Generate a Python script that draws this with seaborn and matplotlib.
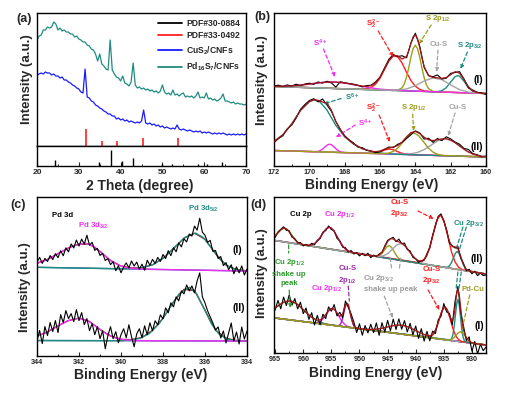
import numpy as np
import matplotlib
matplotlib.use("Agg")
import matplotlib.pyplot as plt
from matplotlib.lines import Line2D
import seaborn as sns

sns.set_style("ticks", {"xtick.direction": "in", "ytick.direction": "in"})
plt.rcParams["font.family"] = ["Liberation Sans", "DejaVu Sans"]
plt.rcParams["font.weight"] = "bold"
plt.rcParams["mathtext.fontset"] = "custom"
plt.rcParams["mathtext.rm"] = "Liberation Sans:bold"
plt.rcParams["mathtext.it"] = "Liberation Sans:bold"
plt.rcParams["mathtext.bf"] = "Liberation Sans:bold"
plt.rcParams["mathtext.default"] = "rm"

TEAL = "#1f8c80"
BLUE = "#1a1aff"
RED = "#ff1f1f"
ENV = "#a01818"
OLIVE = "#9d9d1e"
GRAY = "#a3a3a3"
MAG = "#f22cf2"
GREEN = "#2e9a2e"
PURPLE = "#9a2aa8"

# ---------------- (a) XRD ----------------
xrd_teal = [106, 110, 111, 116, 116, 119, 118, 119, 124, 122, 116, 118, 115, 116, 114, 114, 112, 112, 109, 110,
            107, 106, 104, 104, 101, 100, 97, 96, 92, 85, 92, 82, 80, 77, 76, 106, 76, 72, 69, 68,
            65, 70, 63, 62, 60, 64, 83, 61, 58, 59, 57, 58, 56, 57, 55, 56, 54, 55, 53, 55,
            61, 54, 52, 53, 51, 56, 51, 52, 50, 52, 53, 49, 50, 49, 50, 48, 50, 54, 48, 49,
            48, 53, 47, 48, 46, 47, 45, 46, 48, 52, 45, 45, 44, 43, 44, 42, 43, 42, 42, 41, 42]
xrd_blue = [71, 72, 73, 72, 74, 73, 73, 71, 72, 70, 70, 68, 69, 66, 66, 64, 63, 61, 60, 58,
            57, 54, 53, 77, 49, 48, 45, 44, 41, 40, 38, 37, 35, 34, 32, 32, 30, 30, 27, 28,
            26, 27, 25, 26, 24, 25, 24, 23, 24, 23, 25, 36, 23, 22, 23, 21, 22, 20, 21, 19,
            20, 18, 19, 18, 17, 18, 17, 21, 17, 16, 17, 16, 15, 16, 15, 14, 15, 14, 15, 13,
            14, 13, 14, 13, 12, 13, 12, 13, 12, 13, 12, 11, 12, 11, 12, 11, 12, 11, 12, 11, 12]
pdf_33_pos = [31.7, 35.5, 39.2, 45.4, 53.8]
pdf_33_h = [17, 5, 5, 8, 8]
pdf_30_pos = [24.2, 34.8, 37.6, 40.3, 42.9, 50.0, 52.4, 58.5, 60.7, 64.2]
pdf_30_h = [6, 4, 16, 5, 8, 2, 2, 2, 2, 4]
legend_labels = ["PDF#30-0884", "PDF#33-0492", "CuS$_2$/CNFs", "Pd$_{16}$S$_7$/CNFs"]

# ---------------- (b) S 2p ----------------
b1_base_x, b1_base_y = [160, 172], [72.5, 79.5]
b2_base_x, b2_base_y = [160, 172], [9, 15.5]

b1_mag_x = [172, 171.85, 171.2, 170.55, 169.9, 169.25, 168.6, 167.95, 167.3, 166.65, 166.0, 165.35, 164.7, 160]
b1_mag_y = [0.2, 0.29, 0.88, 2.1, 3.9, 5.7, 6.5, 5.7, 3.9, 2.1, 0.88, 0.29, 0.07, 0]
b1_red_x = [172, 167.15, 166.75, 166.5, 166.25, 166, 165.75, 165.5, 165.25, 165, 164.75, 164.5, 164.25, 164,
            163.75, 163.5, 163.25, 163, 160]
b1_red_y = [0, 0.1, 0.8, 2.3, 5.7, 11.8, 20.6, 29.2, 34.5, 33.8, 27.7, 18.6, 10.5, 4.9, 1.9, 0.6, 0.15, 0, 0]
b1_olive_x = [172, 165.25, 165, 164.75, 164.625, 164.5, 164.375, 164.25, 164.125, 164, 163.875, 163.75,
              163.625, 163.5, 163.375, 163.25, 163, 162.75, 160]
b1_olive_y = [0, 0, 0.4, 3, 6.9, 13.7, 23.1, 33.9, 42.6, 46, 42.6, 33.9, 23.1, 13.7, 6.9, 3, 0.4, 0, 0]
b1_gray_x = [172, 165.5, 165, 164.5, 164, 163.5, 163, 162.5, 162, 161.5, 161, 160.5, 160]
b1_gray_y = [0, 0.1, 0.5, 1.9, 5.4, 10.5, 13.9, 12.4, 7.4, 3, 0.8, 0.2, 0.05]
b1_teal_x = [172, 163, 162.75, 162.5, 162.25, 162, 161.75, 161.6, 161.5, 161.25, 161, 160.75, 160.5, 160.25, 160]
b1_teal_y = [0, 0, 0.3, 1.35, 4.5, 10.3, 15.8, 17, 16.5, 11.6, 5.5, 1.8, 0.4, 0.05, 0]
b1_env_x = [172, 171.5, 171, 170.5, 170, 169.5, 169, 168.5, 168, 167.5, 167, 166.75, 166.5, 166.25, 166,
            165.75, 165.5, 165.25, 165, 164.75, 164.5, 164.375, 164.25, 164.125, 164, 163.875, 163.75,
            163.625, 163.5, 163.25, 163, 162.75, 162.5, 162.25, 162, 161.75, 161.5, 161.25, 161, 160.75,
            160.5, 160.25, 160]
b1_env_y = [0.2, 0.5, 1.2, 2.2, 3.6, 5.1, 6.2, 6.5, 5.9, 4.5, 3.3, 3.2, 4.1, 7, 12.7, 21.2, 29.7, 35, 34.8,
            31.7, 34.2, 40, 47.7, 54.3, 56.3, 52.4, 43.8, 33.4, 24.8, 15.9, 14.3, 14.1, 13.75, 14.6, 17.7,
            20.8, 19.5, 13.3, 6.3, 2.2, 0.6, 0.1, 0]
b1_data = [0.5, 1.5, 0.2, 2, 1, 3, 1.8, 3.5, 4.5, 3.5, 6, 5, 7, 5.5, 1.5, 7, 6, 5.5, 5, 4, 2.5, 4, 4.5, 8,
           13, 22, 31, 36, 34, 35, 33, 48, 58, 45, 24, 16, 15, 17, 13, 14, 19, 20, 21, 14, 5, 3, 1, 0.5, -1]

b2_teal_x = [172, 171.5, 171, 170.5, 170, 169.7, 169.4, 169, 168.5, 168, 167.5, 167, 166.5, 166, 165.5, 165, 160]
b2_teal_y = [9, 16, 27, 41, 50, 52, 50, 42, 27, 16, 9, 4.5, 2, 0.8, 0.2, 0, 0]
b2_mag_x = [172, 169.7, 169.55, 169.4, 169.25, 169.1, 168.95, 168.85, 168.75, 168.6, 168.45, 168.3, 168.15, 168, 160]
b2_mag_y = [0, 0.09, 0.35, 1.17, 2.88, 5.4, 7.5, 8, 7.5, 5.4, 2.88, 1.17, 0.35, 0.09, 0]
b2_red_x = [172, 166.65, 166.45, 166.25, 166.05, 165.85, 165.65, 165.45, 165.25, 165.05, 164.85, 164.65,
            164.45, 164.25, 160]
b2_red_y = [0, 0.05, 0.22, 0.68, 1.62, 3.03, 4.41, 5, 4.41, 3.03, 1.62, 0.68, 0.22, 0.05, 0]
b2_olive_x = [172, 165.78, 165.5, 165.22, 164.94, 164.66, 164.38, 164.1, 163.82, 163.54, 163.26, 162.98,
              162.7, 162.42, 160]
b2_olive_y = [0, 0.24, 0.97, 2.97, 7.15, 13.4, 19.4, 22, 19.4, 13.4, 7.15, 2.97, 0.97, 0.24, 0]
b2_gray_x = [172, 165.1, 164.7, 164.3, 163.9, 163.5, 163.1, 162.7, 162.3, 161.9, 161.5, 161.1, 160.7, 160.3, 160]
b2_gray_y = [0, 0.04, 0.19, 0.75, 2.3, 5.5, 10.3, 15, 17, 15, 10.3, 5.5, 2.3, 0.75, 0.27]
b2_env_x = [172, 171.5, 171, 170.5, 170, 169.75, 169.5, 169.25, 169, 168.75, 168.5, 168, 167.5, 167, 166.5,
            166.25, 166, 165.75, 165.5, 165.25, 165, 164.75, 164.5, 164.25, 164, 163.75, 163.5, 163.25,
            163, 162.75, 162.5, 162.25, 162, 161.75, 161.5, 161.25, 161, 160.75, 160.5, 160.25, 160]
b2_env_y = [9, 16, 27, 41, 50, 52, 51.5, 50, 49, 42, 30.7, 16.1, 9, 4.5, 2.2, 2, 2.7, 4.6, 6.1, 7.2, 8.7,
            12.4, 17.7, 22.1, 23.4, 21.4, 17.9, 15.4, 14.8, 15.7, 16.8, 17.1, 15.8, 13.4, 10.3, 7.2, 4.5,
            2.6, 1.35, 0.6, 0.25]
b2_data = [8, 12, 15, 22, 26, 33, 42, 47, 51, 53, 50, 53, 47, 41, 31, 23, 17, 13, 10, 6, 5.5, 3, 2.5, 1, 2,
           4.5, 7, 6.5, 10, 12, 16, 20, 24, 22, 16, 17, 13, 17, 15, 19, 17, 14, 12, 8, 7, 3, 2, 0, 1]

# ---------------- (c) Pd 3d ----------------
c1_base_x, c1_base_y = [334, 344], [85, 88.7]
c2_base_x, c2_base_y = [334, 344], [15, 15.5]
c1_mag_x = [344, 343.5, 342.9, 342.3, 341.7, 341.3, 340.9, 340.5, 340.1, 339.7, 339.3, 338.5, 334]
c1_mag_y = [4, 8.1, 15.2, 22, 25, 22, 15.2, 8.1, 3.4, 1.1, 0.3, 0, 0]
c1_teal_x = [344, 340, 339.45, 338.95, 338.45, 337.95, 337.45, 336.95, 336.45, 336.075, 335.7, 335.325,
             334.95, 334.575, 334.2, 334]
c1_teal_y = [0, 0, 0.4, 1.6, 5, 12, 22.5, 32.6, 37, 32.6, 22.5, 12, 5, 1.6, 0.4, 0.2]
c2_mag_x = [344, 343.65, 343.1, 342.55, 342, 341.575, 341.15, 340.725, 340.3, 339.875, 339.45, 338.5, 334]
c2_mag_y = [4.3, 7.3, 13.6, 19.8, 22.5, 19.8, 13.6, 7.3, 3, 1, 0.25, 0, 0]
c2_teal_x = [344, 340, 339.6, 339.125, 338.65, 338.175, 337.7, 337.225, 336.75, 336.4, 336.05, 335.7,
             335.35, 335.0, 334.65, 334]
c2_teal_y = [0, 0, 0.6, 2.35, 7.2, 17.4, 32.5, 47.2, 53.5, 47.2, 32.5, 17.4, 7.2, 2.35, 0.6, 0.05]
c1_env = [4, 8.1, 14, 20, 24, 24, 17, 8.1, 2.8, 1.0, 1.5, 4.5, 11.3, 21, 31.8, 36.9, 31, 17, 5.5, 1.2, 0.2]
c2_env = [4.3, 8.5, 14.7, 20, 22.5, 19.2, 11, 4.7, 1.4, 1.2, 3.3, 10.5, 22.4, 39, 51.6, 50.3, 30.8, 10.7,
          2.9, 0.4, 0.05]
c1_data = [5, 10, 4, 9, 6, 12, 8, 14, 10, 17, 12, 20, 16, 24, 20, 28, 22, 29, 24, 33, 23, 26, 18, 20, 13,
           15, 8, 10, 4, 7, -2, 3, -4, 2, 6, 1, 8, 3, 7, 0, 5, -1, 9, 4, 10, 6, 12, 8, 15, 11, 19, 14, 22,
           18, 27, 23, 31, 28, 36, 34, 44, 40, 52, 38, 35, 28, 30, 19, 20, 12, 14, 5, 8, 1, 6, -3, 4, -2,
           5, -4, 2]
c2_data = [0, 10, -3, 14, 5, 18, 9, 20, 8, 26, 18, 30, 22, 27, 19, 31, 20, 28, 16, 22, 10, 17, 6, 14, 2,
           10, -8, 5, 14, 2, 9, -2, 6, 12, 3, 16, 4, -6, 7, 12, 3, 15, 6, 18, 10, 20, 16, 26, 22, 33, 28,
           38, 34, 44, 40, 50, 47, 56, 50, 55, 48, 60, 68, 44, 38, 30, 24, 18, 11, 14, 3, 10, -2, 8, 18, 0,
           9, -3, 14, 2, 10]

# ---------------- (d) Cu 2p ----------------
d2_base_x, d2_base_y = [927.5, 965.2], [79, 112.7]
d1_base_x, d1_base_y = [927.5, 965.2], [8, 35.1]

d2_green_x = [965.2, 964.45, 963.875, 963.3, 962.725, 962.15, 961.575, 961.0, 960.425, 959.85, 927.5]
d2_green_y = [3.6, 8.5, 12.3, 14, 12.3, 8.5, 4.55, 1.9, 0.6, 0.15, 0]
d2_mag_x = [965.2, 959.38, 958.7, 958.02, 957.34, 956.66, 955.98, 955.3, 954.62, 953.94, 953.26, 952.58,
            951.9, 951.22, 927.5]
d2_mag_y = [0, 0.24, 0.97, 3, 7.15, 13.4, 19.4, 22, 19.4, 13.4, 7.15, 3, 0.97, 0.24, 0]
d2_olive_x = [965.2, 947.25, 946.825, 946.4, 945.975, 945.55, 945.125, 944.7, 944.275, 943.85, 943.425,
              943.0, 942.575, 942.15, 927.5]
d2_olive_y = [0, 0.14, 0.57, 1.76, 4.2, 7.9, 11.5, 13, 11.5, 7.9, 4.2, 1.76, 0.57, 0.14, 0]
d2_gray_x = [965.2, 947.1, 946.35, 945.6, 944.85, 944.1, 943.35, 942.6, 941.85, 941.1, 940.35, 939.6,
             938.85, 938.1, 927.5]
d2_gray_y = [0, 0.19, 0.75, 2.3, 5.5, 10.3, 15, 17, 15, 10.3, 5.5, 2.3, 0.75, 0.19, 0]
d2_red_x = [965.2, 939.5, 938.85, 938.2, 937.55, 936.9, 936.25, 935.6, 934.95, 934.3, 933.65, 933.0,
            932.35, 931.7, 927.5]
d2_red_y = [0, 0.57, 2.3, 7, 16.9, 31.6, 45.9, 52, 45.9, 31.6, 16.9, 7, 2.3, 0.57, 0]
d2_teal_x = [965.2, 934.7, 934.35, 934.0, 933.65, 933.3, 932.95, 932.6, 932.25, 931.9, 931.55, 931.2,
             930.85, 930.5, 927.5]
d2_teal_y = [0, 0.2, 0.8, 2.4, 5.85, 10.9, 15.9, 18, 15.9, 10.9, 5.85, 2.4, 0.8, 0.2, 0]
d2_env = [4.7, 8.1, 11.6, 13.8, 13.5, 11, 7.4, 4.1, 1.9, 0.7, 0.25, 0.25, 0.55, 1.4, 3, 5.9, 10.1, 15,
          19.3, 21.8, 21.5, 18.5, 13.9, 9.2, 5.3, 2.6, 1.15, 0.45, 0.15, 0.04, 0, 0, 0, 0, 0.03, 0.14, 0.57,
          2, 5.4, 10.9, 16.9, 20.2, 20.3, 19, 18.2, 17.5, 15.8, 13, 9.6, 6.4, 3.8, 2.6, 2.75, 4.7, 9.55,
          17.9, 29.1, 41, 49.6, 51.8, 46.85, 36.75, 26.8, 22, 22.3, 20.8, 13.6, 5.65, 1.4, 0.2, 0.02, 0, 0,
          0, 0, 0]
d2_data = [3, 9, 12, 15, 12, 12, 6, 5, 1, 2, -1, 1, 0, 3, 2, 7, 9, 16, 18, 23, 20, 19, 12, 10, 4, 4, 0, 2,
           -1, 1, -2, 1, -1, 2, -2, 1, 0, 3, 5, 12, 18, 20, 22, 18, 21, 17, 18, 12, 11, 5, 4, 1, 3, 4, 11,
           17, 30, 40, 50, 53, 46, 38, 25, 23, 21, 23, 12, 7, 0, 2, -2, 1, -3, 0, -2, -1]

d1_green_x = [965.2, 964.7, 963.5, 962.3, 961.1, 959.9, 958.7, 957.5, 956.3, 955.1, 953.9, 927.5]
d1_green_y = [9.5, 11.5, 16.8, 19, 16.8, 11.5, 6.2, 2.6, 0.84, 0.2, 0.04, 0]
d1_mag_x = [965.2, 958.1, 957.55, 957.0, 956.45, 955.9, 955.35, 954.8, 954.25, 953.7, 953.15, 952.6,
            952.05, 951.5, 927.5]
d1_mag_y = [0, 0.19, 0.75, 2.3, 5.5, 10.3, 15, 17, 15, 10.3, 5.5, 2.3, 0.75, 0.19, 0]
d1_purple_x = [965.2, 953.85, 953.575, 953.3, 953.025, 952.75, 952.475, 952.2, 951.925, 951.65, 951.375,
               951.1, 950.825, 950.55, 927.5]
d1_purple_y = [0, 0.26, 1.06, 3.24, 7.8, 14.6, 21.2, 24, 21.2, 14.6, 7.8, 3.24, 1.06, 0.26, 0]
d1_gray_x = [965.2, 950, 948.75, 947.5, 946.25, 945, 943.75, 942.5, 941.25, 940, 938.75, 937.5, 936.25,
             935, 927.5]
d1_gray_y = [0, 0.1, 0.4, 1.2, 2.9, 5.5, 7.9, 9, 7.9, 5.5, 2.9, 1.2, 0.4, 0.1, 0]
d1_red_x = [965.2, 937.8, 937.3, 936.8, 936.3, 935.8, 935.3, 934.8, 934.3, 933.8, 933.3, 932.8, 932.3,
            931.8, 927.5]
d1_red_y = [0, 0.36, 1.45, 4.45, 10.7, 20, 29.1, 33, 29.1, 20, 10.7, 4.45, 1.45, 0.36, 0]
d1_teal_x = [965.2, 933.85, 933.625, 933.4, 933.175, 932.95, 932.725, 932.5, 932.275, 932.05, 931.825,
             931.6, 931.375, 931.15, 927.5]
d1_teal_y = [0, 0.46, 1.85, 5.7, 13.65, 25.5, 37, 42, 37, 25.5, 13.65, 5.7, 1.85, 0.46, 0]
d1_olive_x = [965.2, 934.4, 934.0, 933.6, 933.2, 932.8, 932.4, 932.0, 931.6, 931.2, 930.8, 930.4, 930.0,
              929.6, 927.5]
d1_olive_y = [0, 0.11, 0.44, 1.35, 3.25, 6.07, 8.82, 10, 8.82, 6.07, 3.25, 1.35, 0.44, 0.11, 0]
d1_env_x = np.r_[np.arange(965, 933.4, -0.5), [933.25, 933, 932.75, 932.5, 932.25, 932, 931.75, 931.5],
                 np.arange(931, 927.4, -0.5)]
d1_env_y = [10.1, 12.5, 14.8, 16.8, 18.2, 18.9, 18.85, 18, 16.4, 14.3, 12, 9.6, 7.4, 5.4, 4.05, 3.45, 3.95,
            6.2, 10, 14.25, 16.9, 16.5, 13.1, 10, 12.8, 22.6, 23.2, 10.9, 2.2, 0.2, 0.1, 0.18, 0.3, 0.5,
            0.8, 1.2, 1.8, 2.5, 3.4, 4.4, 5.5, 6.5, 7.5, 8.3, 8.8, 9, 8.8, 8.3, 7.5, 6.5, 5.5, 4.4, 3.4,
            2.5, 2, 2.06, 3.7, 8.3, 16.4, 26, 32.4, 31.5, 24.6, 19.5,
            23.4, 33.8, 46.5, 52.5, 46.8, 33.35, 20.3, 11.9,
            4.8, 1.7, 0.44, 0.08, 0, 0, 0, 0]
d1_data = [8, 18, 10, 22, 14, 25, 15, 22, 12, 19, 8, 14, 3, 10, -2, 8, -1, 10, 6, 18, 14, 21, 10, 14, 9,
           26, 20, 14, 6, -4, 5, -6, 4, -3, 6, -2, 8, -4, 9, 0, 12, 2, 14, 4, 15, 5, 14, 3, 12, 1, 10, -2,
           8, -4, 6, -3, 7, 5, 19, 23, 36, 28, 27, 16, 40, 55, 30, 16, 2, 6, -8, 2, -10, 0, -6, -2]


def curve(ax, x, y, color, lw=1.0, z=2):
    sns.lineplot(x=np.asarray(x, float), y=np.asarray(y, float), ax=ax, color=color, linewidth=lw,
                 sort=False, estimator=None, legend=False, zorder=z)


def on_base(ax, bx, by, x, amp, color, lw=1.0, z=2):
    x = np.asarray(x, float)
    curve(ax, x, np.interp(x, bx, by) + np.asarray(amp, float), color, lw, z)


def txt(ax, x, y, s, color, size=5.6, **kw):
    ax.text(x, y, s, color=color, fontsize=size, ha="center", va="center", fontweight="bold", **kw)


def dash(ax, start, end, color, head=True):
    ax.annotate("", xy=end, xytext=start,
                arrowprops=dict(arrowstyle="-|>" if head else "-", color=color, lw=0.9,
                                linestyle=(0, (3, 2)), mutation_scale=5, shrinkA=0, shrinkB=0))


def style(ax, size=5.2):
    ax.set_yticks([])
    for s in ax.spines.values():
        s.set_linewidth(1.0)
        s.set_color("black")
    ax.tick_params(axis="x", which="major", direction="in", length=3, width=0.8, labelsize=size, pad=2)
    ax.tick_params(axis="x", which="minor", direction="in", length=1.6, width=0.7)
    ax.set_xlabel("")
    ax.set_ylabel("")


fig = plt.figure(figsize=(5.05, 3.93), dpi=100)
ax_a = fig.add_axes([0.0733, 0.6285, 0.4139, 0.3384])
ax_a2 = fig.add_axes([0.0733, 0.5776, 0.4139, 0.0509])
ax_b = fig.add_axes([0.5426, 0.5776, 0.4198, 0.3893])
ax_c = fig.add_axes([0.0733, 0.0941, 0.4158, 0.4046])
ax_d = fig.add_axes([0.5426, 0.1018, 0.4198, 0.3969])

# (a)
tt = np.linspace(20, 70, len(xrd_teal))
curve(ax_a, tt, xrd_teal, TEAL, 0.9)
curve(ax_a, np.linspace(20, 70, len(xrd_blue)), xrd_blue, BLUE, 0.9)
ax_a.vlines(pdf_33_pos, 0, pdf_33_h, color=RED, lw=1.2)
ax_a.set_xlim(20, 70)
ax_a.set_ylim(0, 133)
style(ax_a)
ax_a.set_xticks([])
handles = [Line2D([], [], color=c, lw=1.3) for c in ["black", RED, BLUE, TEAL]]
ax_a.legend(handles, legend_labels, loc="upper right", frameon=False, fontsize=6.2, handlelength=2.8,
            handletextpad=0.5, labelspacing=0.45, borderaxespad=0.25)
ax_a2.vlines(pdf_30_pos, 0, pdf_30_h, color="black", lw=1.0)
ax_a2.set_xlim(20, 70)
ax_a2.set_ylim(0, 20)
style(ax_a2, 6.0)
ax_a2.set_xticks(range(20, 71, 10))
ax_a2.set_xticks(range(25, 70, 10), minor=True)

# (b)
for bx, by, comps, env_x, env_y, data in [
        (b1_base_x, b1_base_y,
         [(b1_red_x, b1_red_y, RED), (b1_olive_x, b1_olive_y, OLIVE), (b1_teal_x, b1_teal_y, TEAL),
          (b1_mag_x, b1_mag_y, MAG), (b1_gray_x, b1_gray_y, GRAY)], b1_env_x, b1_env_y, b1_data),
        (b2_base_x, b2_base_y,
         [(b2_red_x, b2_red_y, RED), (b2_gray_x, b2_gray_y, GRAY), (b2_mag_x, b2_mag_y, MAG),
          (b2_teal_x, b2_teal_y, TEAL), (b2_olive_x, b2_olive_y, OLIVE)], b2_env_x, b2_env_y, b2_data)]:
    on_base(ax_b, bx, by, bx, [0, 0], GRAY)
    for cx, cy, col in comps:
        on_base(ax_b, bx, by, cx, cy, col)
    on_base(ax_b, bx, by, np.linspace(172, 160, len(data)), data, "black", 0.8, 3)
    on_base(ax_b, bx, by, env_x, env_y, ENV, 0.9, 4)
ax_b.set_xlim(172, 160)
ax_b.set_ylim(0, 153)
style(ax_b)
ax_b.set_xticks(range(160, 173, 2))
ax_b.set_xticks(range(161, 172, 2), minor=True)
txt(ax_b, 169.4, 123, "S$^{4+}$", MAG)
dash(ax_b, (169.2, 117), (168.55, 89), MAG)
txt(ax_b, 166.4, 142, "S$_2^{2-}$", RED)
dash(ax_b, (166.1, 135), (165.25, 109), RED)
txt(ax_b, 162.7, 148, "S 2p$_{1/2}$", OLIVE)
dash(ax_b, (163.1, 141), (163.8, 122), OLIVE)
txt(ax_b, 162.7, 122, "Cu-S", GRAY)
dash(ax_b, (162.72, 116), (162.8, 94), GRAY)
txt(ax_b, 160.9, 121, "S 2p$_{3/2}$", TEAL)
dash(ax_b, (161.05, 114), (161.45, 97), TEAL)
txt(ax_b, 160.45, 86, "(I)", "black", 7.5)
txt(ax_b, 167.6, 69, "S$^{6+}$", TEAL)
dash(ax_b, (168.2, 67.5), (169.2, 62), TEAL)
txt(ax_b, 166.85, 43, "S$^{4+}$", MAG)
dash(ax_b, (167.4, 41), (168.5, 29), MAG)
txt(ax_b, 166.4, 58, "S$_2^{2-}$", RED)
dash(ax_b, (166.05, 51), (165.45, 24), RED)
txt(ax_b, 164.1, 59, "S 2p$_{1/2}$", OLIVE)
dash(ax_b, (164.15, 52), (164.1, 35), OLIVE)
txt(ax_b, 161.6, 59, "Cu-S", GRAY)
dash(ax_b, (161.75, 53), (162.15, 30), GRAY)
txt(ax_b, 160.55, 19, "(II)", "black", 7.5)

# (c)
for bx, by, mx, my, tx, ty, env, data in [
        (c1_base_x, c1_base_y, c1_mag_x, c1_mag_y, c1_teal_x, c1_teal_y, c1_env, c1_data),
        (c2_base_x, c2_base_y, c2_mag_x, c2_mag_y, c2_teal_x, c2_teal_y, c2_env, c2_data)]:
    on_base(ax_c, bx, by, bx, [0, 0], "#2f62c0")
    on_base(ax_c, bx, by, np.linspace(344, 334, len(env)), env, ENV, 0.9)
    on_base(ax_c, bx, by, tx, ty, TEAL)
    on_base(ax_c, bx, by, mx, my, MAG)
    on_base(ax_c, bx, by, np.linspace(344, 334, len(data)), data, "black", 0.8, 3)
ax_c.set_xlim(344, 334)
ax_c.set_ylim(0, 159)
style(ax_c)
ax_c.set_xticks(range(334, 345, 2))
ax_c.set_xticks(range(335, 344, 2), minor=True)
txt(ax_c, 342.8, 141, "Pd 3d", "black")
txt(ax_c, 341.3, 130, "Pd 3d$_{3/2}$", MAG)
txt(ax_c, 336.1, 147, "Pd 3d$_{5/2}$", TEAL)
txt(ax_c, 334.45, 106, "(I)", "black", 7.5)
txt(ax_c, 334.4, 48, "(II)", "black", 7.5)

# (d)
dx = np.linspace(965, 927.5, len(d2_data))
on_base(ax_d, d2_base_x, d2_base_y, d2_base_x, [0, 0], GRAY)
for cx, cy, col in [(d2_green_x, d2_green_y, GREEN), (d2_mag_x, d2_mag_y, MAG), (d2_olive_x, d2_olive_y, OLIVE),
                    (d2_red_x, d2_red_y, RED), (d2_teal_x, d2_teal_y, TEAL), (d2_gray_x, d2_gray_y, GRAY)]:
    on_base(ax_d, d2_base_x, d2_base_y, cx, cy, col)
on_base(ax_d, d2_base_x, d2_base_y, dx, d2_data, "black", 0.8, 3)
on_base(ax_d, d2_base_x, d2_base_y, np.linspace(965, 927.5, len(d2_env)), d2_env, ENV, 0.9, 4)
on_base(ax_d, d1_base_x, d1_base_y, d1_base_x, [0, 0], GREEN)
for cx, cy, col in [(d1_green_x, d1_green_y, GREEN), (d1_mag_x, d1_mag_y, MAG),
                    (d1_purple_x, d1_purple_y, PURPLE), (d1_gray_x, d1_gray_y, GRAY),
                    (d1_red_x, d1_red_y, RED), (d1_teal_x, d1_teal_y, TEAL), (d1_olive_x, d1_olive_y, OLIVE)]:
    on_base(ax_d, d1_base_x, d1_base_y, cx, cy, col)
on_base(ax_d, d1_base_x, d1_base_y, np.linspace(965, 927.5, len(d1_data)), d1_data, "black", 0.8, 3)
on_base(ax_d, d1_base_x, d1_base_y, d1_env_x, d1_env_y, ENV, 0.9, 4)
ax_d.set_xlim(965.2, 927.5)
ax_d.set_ylim(0, 156)
style(ax_d)
ax_d.set_xticks(range(930, 966, 5))
ax_d.set_xticks(np.arange(932.5, 965, 5), minor=True)
txt(ax_d, 960.4, 139, "Cu 2p", "black")
txt(ax_d, 953.6, 139, "Cu 2p$_{1/2}$", MAG)
txt(ax_d, 942.9, 144, "Cu-S\n2p$_{3/2}$", RED, linespacing=1.3)
dash(ax_d, (939.6, 142), (936.8, 134), RED)
txt(ax_d, 930.6, 130, "Cu 2p$_{3/2}$", TEAL)
dash(ax_d, (931.0, 126), (932.2, 104), TEAL, False)
dash(ax_d, (931.6, 126), (932.8, 104), TEAL, False)
dash(ax_d, (931.9, 81), (932.3, 65), TEAL, False)
dash(ax_d, (932.5, 81), (932.8, 65), TEAL, False)
txt(ax_d, 929.1, 94, "(II)", "black", 7.5)
txt(ax_d, 962.5, 81, "Cu 2p$_{1/2}$\nshake up\npeak", GREEN, linespacing=1.5)
dash(ax_d, (962.6, 108), (962.6, 100), GREEN, False)
dash(ax_d, (962.5, 63), (962.3, 45), GREEN)
txt(ax_d, 955.9, 65, "Cu 2p$_{1/2}$", MAG)
txt(ax_d, 952.1, 77.5, "Cu-S\n2p$_{1/2}$", PURPLE, linespacing=1.3)
dash(ax_d, (952.0, 67), (951.8, 52), PURPLE, False)
txt(ax_d, 946.6, 75, "Cu 2p$_{3/2}$", "#9a9a9a")
txt(ax_d, 944.5, 64, "shake up peak", "#9a9a9a")
dash(ax_d, (944.3, 85), (944.6, 97), GRAY, False)
dash(ax_d, (942.9, 85), (942.6, 97), GRAY, False)
dash(ax_d, (945.6, 57), (944.1, 35), GRAY)
txt(ax_d, 937.2, 77, "Cu-S\n2p$_{3/2}$", RED, linespacing=1.3)
dash(ax_d, (937.8, 63), (935.8, 43), RED)
txt(ax_d, 929.8, 64, "Pd-Cu", OLIVE)
dash(ax_d, (930.4, 58), (931.9, 20), OLIVE, False)
txt(ax_d, 928.65, 27, "(I)", "black", 7.5)

# figure texts
for s, x, y in [("(a)", 0.0475, 0.952), ("(b)", 0.519, 0.957), ("(c)", 0.035, 0.478), ("(d)", 0.511, 0.478)]:
    fig.text(x, y, s, fontsize=9, fontweight="bold", ha="center", va="center")
for x, y in [(0.0535, 0.799), (0.519, 0.796), (0.0495, 0.270), (0.519, 0.305)]:
    fig.text(x, y, "Intensity (a.u.)", fontsize=9.5, fontweight="bold", rotation=90, ha="center", va="center")
for s, x, y in [("2 Theta (degree)", 0.277, 0.527), ("Binding Energy (eV)", 0.737, 0.530),
                ("Binding Energy (eV)", 0.279, 0.047), ("Binding Energy (eV)", 0.743, 0.050)]:
    fig.text(x, y, s, fontsize=10, fontweight="bold", ha="center", va="center")

fig.savefig("out.png", dpi=100)
